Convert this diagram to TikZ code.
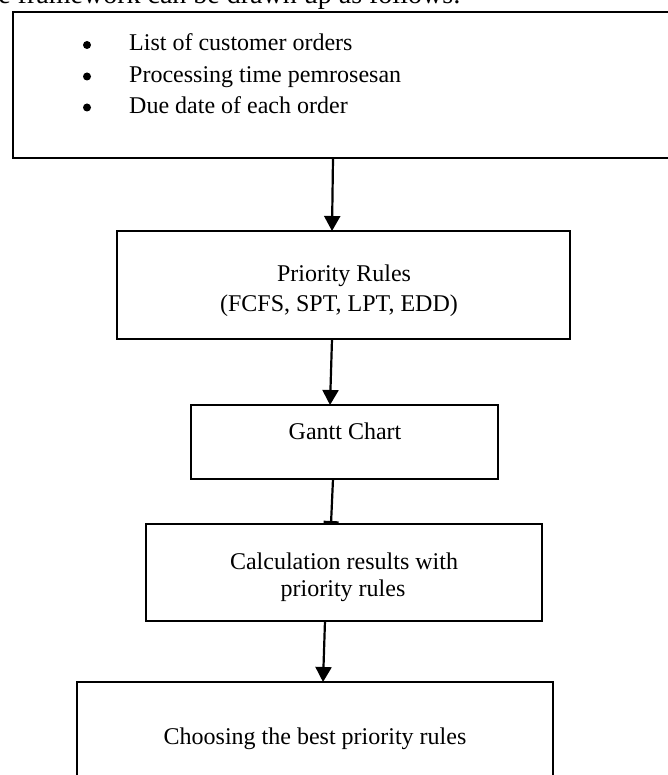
\documentclass[tikz,border=0pt]{standalone}
\usepackage{fontspec}
\setmainfont{Liberation Serif}
\usetikzlibrary{arrows.meta}
\begin{document}
\begin{tikzpicture}[x=1pt,y=-1pt,
  boxnode/.style={draw=black, line width=2.2pt, rectangle, inner sep=0pt, outer sep=0pt},
  txt/.style={font=\fontsize{24}{30}\selectfont, inner sep=0pt, anchor=base},
  bulletdot/.style={circle, fill=black, inner sep=0pt, minimum size=8pt},
  arr/.style={line width=2.2pt, -{Triangle[length=15pt,width=16pt]}},
  barr/.style={line width=2.2pt, -{Rectangle[length=3pt,width=15pt]}}]
\useasboundingbox (0,0) rectangle (668,775);
\clip (0,0) rectangle (668,775);
% header line (cut off at the top)
\node[txt, anchor=base west, font=\fontsize{28}{32}\selectfont] (head) at (-33,4) {The framework can be drawn up as follows:};
% boxes
\node[boxnode, minimum width=667.2pt, minimum height=146pt] (top) at (346.4,85) {};
\node[boxnode, minimum width=453pt, minimum height=108pt] (prio) at (343.5,285) {};
\node[boxnode, minimum width=307.3pt, minimum height=74pt] (gantt) at (344.35,442) {};
\node[boxnode, minimum width=396pt, minimum height=96.7pt] (calc) at (344,572.35) {};
\node[boxnode, minimum width=476pt, minimum height=118pt] (choose) at (315,741) {};
% texts of the first box
\node[bulletdot] (b1) at (87,45) {};
\node[txt, anchor=base west] (t1) at (129,51) {List of customer orders};
\node[bulletdot] (b2) at (87,76.5) {};
\node[txt, anchor=base west] (t2) at (129,82.5) {Processing time pemrosesan};
\node[bulletdot] (b3) at (87,107.5) {};
\node[txt, anchor=base west] (t3) at (129,113.5) {Due date of each order};
% other texts
\node[txt] (p1) at (344,281) {Priority Rules};
\node[txt] (p2) at (339,311) {(FCFS, SPT, LPT, EDD)};
\node[txt] (g1) at (345,439) {Gantt Chart};
\node[txt] (c1) at (344,569) {Calculation results with};
\node[txt] (c2) at (343,596) {priority rules};
\node[txt] (h1) at (315,744) {Choosing the best priority rules};
% connectors
\draw[arr] ([xshift=-13.4pt]top.south) -- ([xshift=-11.5pt]prio.north);
\draw[arr] ([xshift=-11.5pt]prio.south) -- ([xshift=-14.35pt]gantt.north);
\draw[barr] ([xshift=-11.35pt]gantt.south) -- ([xshift=-13pt]calc.north);
\draw[arr] ([xshift=-19pt]calc.south) -- ([xshift=8pt]choose.north);
\end{tikzpicture}
\end{document}
